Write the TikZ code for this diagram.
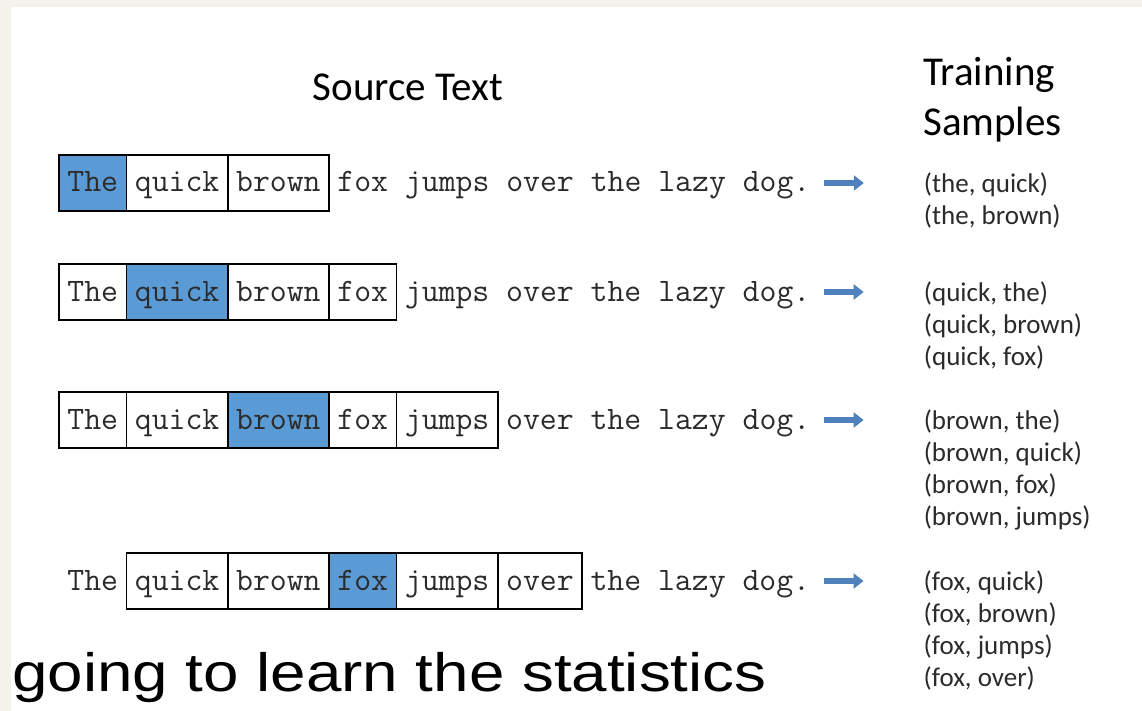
\documentclass[tikz,border=0pt]{standalone}
\usepackage{fontspec}
\usetikzlibrary{positioning,arrows.meta}
\newfontfamily\calfont{Carlito}
\newfontfamily\arialfont{Liberation Sans}
\definecolor{wordblue}{HTML}{5B9BD5}
\definecolor{arrowblue}{HTML}{4F81BD}
\definecolor{pagebg}{HTML}{F3F2EB}
\definecolor{inkgrey}{HTML}{2B2B2B}

\tikzset{
  word/.style={font=\ttfamily\fontsize{32.8}{36}\selectfont, text=inkgrey, anchor=west,
    inner xsep=8.4pt, inner ysep=0pt, outer sep=0pt, minimum height=56pt,
    text height=22pt, text depth=4pt},
  boxed/.style={word, draw=black, line width=1.6pt},
  focus/.style={boxed, fill=wordblue},
  pairs/.style={font=\calfont\fontsize{27}{32}\selectfont, text=inkgrey, align=left,
    anchor=north west, inner sep=0pt},
  heading/.style={font=\calfont\fontsize{41}{50}\selectfont, text=black, align=left,
    inner sep=0pt},
  sample arrow/.style={draw=arrowblue, line width=6.5pt, -{Triangle[length=10pt, width=15pt]}},
}

\begin{document}
\begin{tikzpicture}[x=1pt, y=-1pt]
    \fill[pagebg] (0,0) rectangle (1142,711);
    \fill[white] (11,7) rectangle (1142,711);
    \useasboundingbox (0,0) rectangle (1142,711);

    \node[heading, anchor=center] (src) at (408,87) {Source Text};
    \node[heading, anchor=north west] (trn) at (923,57) {Training\\Samples};

    % window around "The"
    \node[focus] (r1a) at (59,183) {The};
    \node[boxed, right=0pt of r1a] (r1b) {quick};
    \node[boxed, right=0pt of r1b] (r1c) {brown};
    \node[word, right=0pt of r1c] (r1d) {fox jumps over the lazy dog.};
    \coordinate (a1) at ([xshift=45pt]r1d.east);
    \draw[sample arrow] ([xshift=5pt]r1d.east) -- (a1);
    \node[pairs] (s1) at ([xshift=60pt, yshift=10pt]a1) {(the, quick)\\(the, brown)};

    % window around "quick"
    \node[boxed] (r2a) at (59,292) {The};
    \node[focus, right=0pt of r2a] (r2b) {quick};
    \node[boxed, right=0pt of r2b] (r2c) {brown};
    \node[boxed, right=0pt of r2c] (r2d) {fox};
    \node[word, right=0pt of r2d] (r2e) {jumps over the lazy dog.};
    \coordinate (a2) at ([xshift=45pt]r2e.east);
    \draw[sample arrow] ([xshift=5pt]r2e.east) -- (a2);
    \node[pairs] (s2) at ([xshift=60pt, yshift=10pt]a2) {(quick, the)\\(quick, brown)\\(quick, fox)};

    % window around "brown"
    \node[boxed] (r3a) at (59,420) {The};
    \node[boxed, right=0pt of r3a] (r3b) {quick};
    \node[focus, right=0pt of r3b] (r3c) {brown};
    \node[boxed, right=0pt of r3c] (r3d) {fox};
    \node[boxed, right=0pt of r3d] (r3e) {jumps};
    \node[word, right=0pt of r3e] (r3f) {over the lazy dog.};
    \coordinate (a3) at ([xshift=45pt]r3f.east);
    \draw[sample arrow] ([xshift=5pt]r3f.east) -- (a3);
    \node[pairs] (s3) at ([xshift=60pt, yshift=10pt]a3) {(brown, the)\\(brown, quick)\\(brown, fox)\\(brown, jumps)};

    % window around "fox"
    \node[word] (r4a) at (59,581) {The};
    \node[boxed, right=0pt of r4a] (r4b) {quick};
    \node[boxed, right=0pt of r4b] (r4c) {brown};
    \node[focus, right=0pt of r4c] (r4d) {fox};
    \node[boxed, right=0pt of r4d] (r4e) {jumps};
    \node[boxed, right=0pt of r4e] (r4f) {over};
    \node[word, right=0pt of r4f] (r4g) {the lazy dog.};
    \coordinate (a4) at ([xshift=45pt]r4g.east);
    \draw[sample arrow] ([xshift=5pt]r4g.east) -- (a4);
    \node[pairs] (s4) at ([xshift=60pt, yshift=10pt]a4) {(fox, quick)\\(fox, brown)\\(fox, jumps)\\(fox, over)};

    \node[anchor=base west, inner sep=0pt, font=\arialfont\fontsize{54}{60}\selectfont]
        (caption) at (12,691) {\scalebox{1.18}[1]{going to learn the statistics}};
\end{tikzpicture}
\end{document}
